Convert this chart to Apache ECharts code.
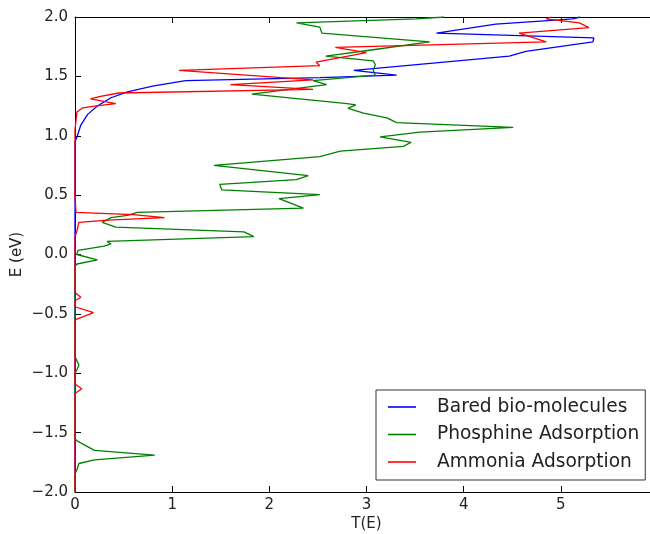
<!DOCTYPE html>
<html>
<head>
<meta charset="utf-8">
<script src="https://cdn.jsdelivr.net/npm/echarts@6/dist/echarts.min.js"></script>
<style>html,body{margin:0;padding:0;background:#fff}#c{width:650px;height:534px}</style>
</head>
<body>
<div id="c"></div>
<script>
// Series values as [T(E), E (eV)] pairs
const seriesNames = ['Bared bio-molecules', 'Phosphine Adsorption', 'Ammonia Adsorption'];
const baredData = [[0,-2.0],[0,0.95],[0.02,0.99],[0.06,1.09],[0.13,1.18],[0.23,1.25],[0.37,1.32],[0.54,1.37],[0.81,1.42],[1.14,1.465],[2.52,1.49],[3.31,1.51],[2.87,1.55],[4.47,1.67],[4.64,1.71],[5.33,1.79],[5.34,1.825],[3.72,1.865],[4.33,1.94],[4.98,1.975],[5.12,1.985],[5.2,2.0]];
const phosphineData = [[0,-2.0],[0,-1.85],[0.02,-1.81],[0.04,-1.76],[0.2,-1.73],[0.82,-1.69],[0.2,-1.65],[0.02,-1.57],[0,-1.55],[0,-1.0],[0.02,-0.97],[0.04,-0.93],[0,-0.86],[0,-0.1],[0.02,-0.08],[0.23,-0.045],[0.02,0.0],[0.03,0.034],[0.30,0.07],[0.37,0.09],[0.33,0.11],[1.84,0.15],[1.74,0.19],[0.42,0.23],[0.28,0.27],[0.37,0.31],[0.54,0.33],[0.64,0.355],[2.35,0.39],[2.10,0.47],[2.52,0.505],[1.51,0.545],[1.49,0.59],[2.28,0.63],[2.40,0.665],[1.43,0.75],[2.52,0.825],[2.73,0.87],[3.38,0.91],[3.46,0.945],[3.14,0.99],[3.55,1.03],[4.51,1.07],[3.31,1.11],[3.21,1.15],[2.97,1.19],[2.81,1.23],[2.89,1.26],[2.80,1.27],[1.82,1.35],[2.59,1.43],[2.45,1.465],[3.09,1.51],[3.07,1.55],[3.09,1.60],[3.07,1.63],[2.58,1.67],[3.03,1.72],[3.65,1.79],[2.54,1.865],[2.52,1.915],[2.28,1.95],[3.51,1.985],[3.8,2.0]];
const ammoniaData = [[0,-2.0],[0,-1.17],[0.07,-1.13],[0,-1.09],[0,-0.55],[0.19,-0.49],[0,-0.44],[0,-0.39],[0.06,-0.36],[0,-0.32],[0,0.15],[0.02,0.2],[0.04,0.27],[0.34,0.29],[0.92,0.31],[0.6,0.335],[0.01,0.355],[0,0.5],[0,1.05],[0.02,1.2],[0.08,1.235],[0.2,1.25],[0.42,1.27],[0.16,1.31],[0.25,1.33],[0.45,1.36],[2.45,1.39],[1.6,1.43],[2.45,1.47],[1.07,1.55],[2.52,1.59],[2.48,1.62],[3.0,1.70],[2.68,1.745],[4.85,1.79],[4.57,1.865],[5.29,1.91],[5.19,1.95],[4.85,1.985],[4.9,2.0]];
const seriesColors = ['#0000ff', '#008000', '#ff0000'];
const xTickLabels = ['0','1','2','3','4','5'];
const yTickLabels = ['\u22122.0','\u22121.5','\u22121.0','\u22120.5','0.0','0.5','1.0','1.5','2.0'];

const FONT = 'DejaVu Sans';
const chart = echarts.init(document.getElementById('c'), null, {renderer: 'canvas'});
const allData = [baredData, phosphineData, ammoniaData];

const xCommon = {
  type: 'value', min: 0, max: 6, interval: 1,
  axisLine: {show: true, onZero: false, lineStyle: {color: '#000', width: 1}},
  axisTick: {show: true, inside: true, length: 6, lineStyle: {color: '#000'}},
  splitLine: {show: false}
};

chart.setOption({
  animation: false,
  backgroundColor: '#fff',
  grid: {left: 75, right: -8, top: 17, bottom: 42, containLabel: false, outerBoundsMode: 'none'},
  legend: {
    orient: 'vertical', left: 376, top: 390,
    padding: [7, 6, 8, 12],
    backgroundColor: '#fff', borderColor: '#333', borderWidth: 1,
    icon: 'rect', itemWidth: 28, itemHeight: 1.6, itemGap: 7.5,
    textStyle: {fontSize: 18.6, fontFamily: FONT, color: '#222', padding: [0, 0, 0, 16], lineHeight: 20},
    data: seriesNames
  },
  xAxis: [
    Object.assign({}, xCommon, {
      position: 'bottom',
      name: 'T(E)', nameLocation: 'middle', nameGap: 25, nameMoveOverlap: false,
      nameTextStyle: {fontSize: 15, fontFamily: FONT, color: '#222'},
      axisLabel: {show: true, margin: 6, fontSize: 15, fontFamily: FONT, color: '#222',
        formatter: v => (v >= 0 && v < xTickLabels.length) ? xTickLabels[v] : ''}
    }),
    Object.assign({}, xCommon, {
      position: 'top', axisLabel: {show: false}
    })
  ],
  yAxis: {
    type: 'value', min: -2, max: 2, interval: 0.5,
    name: 'E (eV)', nameLocation: 'middle', nameGap: 50, nameRotate: 90, nameMoveOverlap: false,
    nameTextStyle: {fontSize: 15, fontFamily: FONT, color: '#222'},
    axisLine: {show: true, onZero: false, lineStyle: {color: '#000', width: 1}},
    axisTick: {show: true, inside: true, length: 6, lineStyle: {color: '#000'}},
    splitLine: {show: false},
    axisLabel: {margin: 7, fontSize: 15, fontFamily: FONT, color: '#222',
      formatter: v => yTickLabels[Math.round((v + 2) / 0.5)]}
  },
  series: seriesNames.map((name, i) => ({
    name: name, type: 'line', xAxisIndex: 0,
    data: allData[i], symbol: 'none', smooth: false, clip: true,
    lineStyle: {color: seriesColors[i], width: 1.3},
    itemStyle: {color: seriesColors[i]}
  }))
});
</script>
</body>
</html>
